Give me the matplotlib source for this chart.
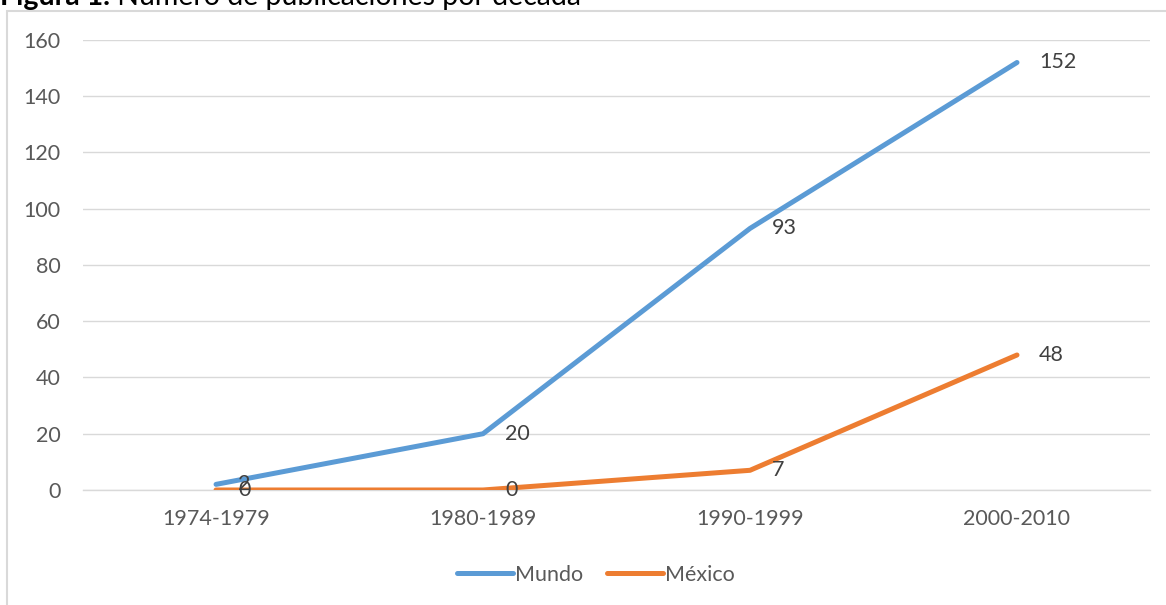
import matplotlib
matplotlib.use("Agg")
import matplotlib.pyplot as plt
from matplotlib.patches import Rectangle

plt.rcParams['font.family'] = ['Lato', 'DejaVu Sans']

# publicaciones por década
decadas = ['1974-1979', '1980-1989', '1990-1999', '2000-2010']
mundo = [2, 20, 93, 152]
mexico = [0, 0, 7, 48]

azul = '#5B9BD5'
naranja = '#ED7D31'
gris = '#595959'
rejilla = '#D9D9D9'

fig = plt.figure(figsize=(11.66, 6.05), dpi=100)
ax = fig.add_axes([0.0708, 0.1901, 0.9159, 0.7438])

x = range(len(decadas))
ax.plot(x, mundo, color=azul, lw=3.6, solid_capstyle='round', label='Mundo', zorder=3)
ax.plot(x, mexico, color=naranja, lw=3.6, solid_capstyle='round', label='México', zorder=3)

# etiquetas de datos a la derecha de cada punto
for serie in (mundo, mexico):
    for i, v in enumerate(serie):
        ax.annotate(str(v), (i, v), xytext=(16, 0), textcoords='offset points',
                    ha='left', va='center', fontsize=15.5, color='#404040', zorder=4)

ax.set_xlim(-0.5, 3.5)
ax.set_ylim(0, 160)
ax.set_yticks(range(0, 161, 20))
ax.set_xticks(list(x))
ax.set_xticklabels(decadas)
ax.tick_params(length=0, labelsize=15.5, colors=gris)
ax.tick_params(axis='y', pad=16)
ax.tick_params(axis='x', pad=14)
ax.grid(axis='y', color=rejilla, lw=1)
ax.set_axisbelow(True)
for lado in ('top', 'right', 'left'):
    ax.spines[lado].set_visible(False)
ax.spines['bottom'].set_color(rejilla)
ax.spines['bottom'].set_linewidth(1)

leg = fig.legend(loc='center', bbox_to_anchor=(0.511, 0.05), ncol=2, frameon=False,
                 fontsize=15.5, handlelength=2.6, handletextpad=0.1, columnspacing=1.1)
for t in leg.get_texts():
    t.set_color(gris)

# marco del área del gráfico
fig.patches.append(Rectangle((7 / 1166, -0.1), 1.2, 1 - 11 / 605 + 0.1,
                             transform=fig.transFigure, fill=False,
                             edgecolor=rejilla, lw=1.5))

# título
renderer = fig.canvas.get_renderer()
t1 = fig.text(0.0, 1 - 5 / 605, 'Figura 1.', fontsize=20.5, fontweight='bold',
              va='baseline', ha='left')
bb = t1.get_window_extent(renderer)
fig.text(bb.x1 / fig.bbox.width, 1 - 5 / 605, ' Número de publicaciones por década',
         fontsize=20.5, va='baseline', ha='left')

fig.savefig('out.png', dpi=100)
